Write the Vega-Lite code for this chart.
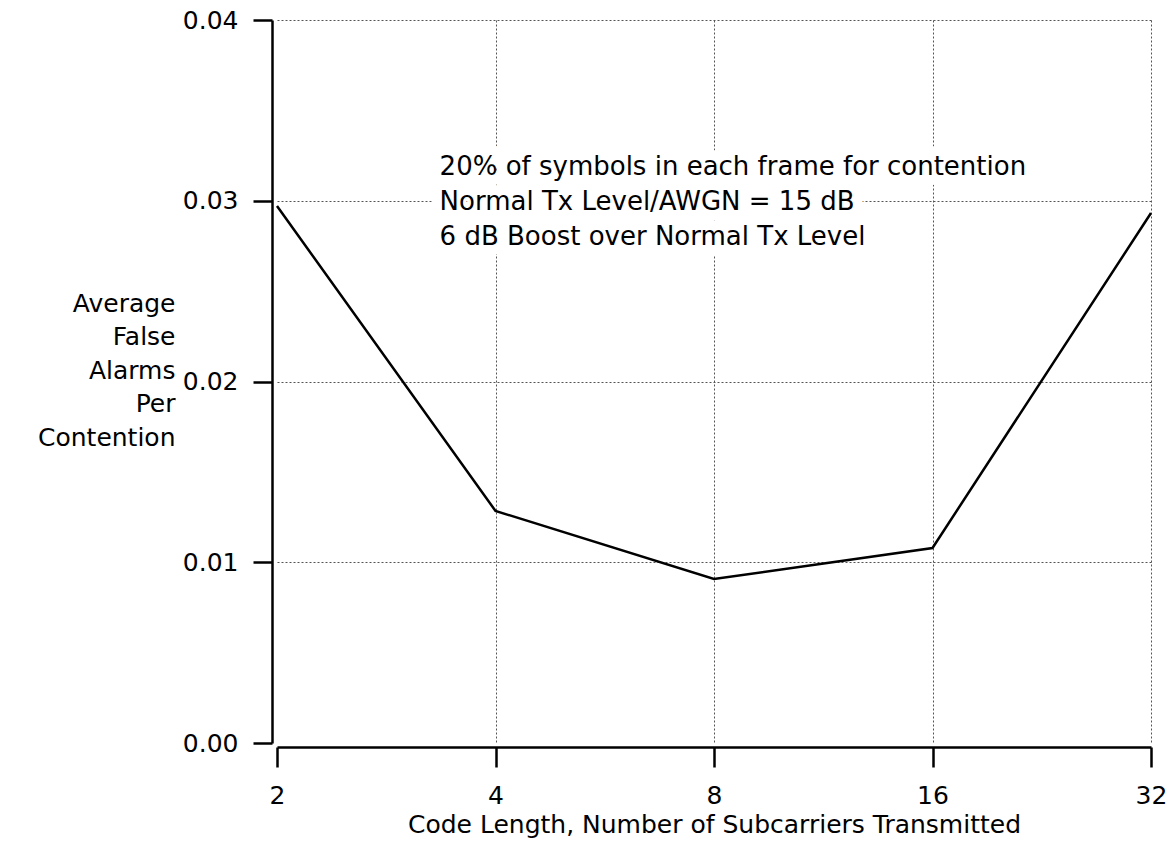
{
  "$schema": "https://vega.github.io/schema/vega-lite/v6.json",
  "autosize": "none",
  "width": 874,
  "height": 723,
  "padding": {"left": 277, "top": 20, "right": 24, "bottom": 107},
  "background": "white",
  "config": {
    "view": {"stroke": null},
    "font": "DejaVu Sans"
  },
  "datasets": {
    "series": [
      {"n": 2, "fa": 0.02971},
      {"n": 4, "fa": 0.01284},
      {"n": 8, "fa": 0.00907},
      {"n": 16, "fa": 0.01079},
      {"n": 32, "fa": 0.02932}
    ],
    "note": [
      {"n": 3.35, "fa": 0.0326, "label": ["20% of symbols in each frame for contention", "Normal Tx Level/AWGN = 15 dB", "6 dB Boost over Normal Tx Level"]}
    ]
  },
  "layer": [
    {
      "data": {"name": "series"},
      "mark": {"type": "line", "color": "black", "strokeWidth": 2.5},
      "encoding": {
        "x": {
          "field": "n", "type": "quantitative",
          "scale": {"type": "log", "base": 2, "domain": [2, 32], "nice": false},
          "axis": {
            "values": [2, 4, 8, 16, 32],
            "format": "d",
            "title": "Code Length, Number of Subcarriers Transmitted",
            "titleFontSize": 25,
            "titleFontWeight": "normal",
            "titleColor": "black",
            "titlePadding": 4,
            "labelFontSize": 25,
            "labelColor": "black",
            "labelPadding": 16,
            "labelFlush": false,
            "labelOverlap": false,
            "tickSize": 20,
            "tickWidth": 2.5,
            "tickColor": "black",
            "domainColor": "black",
            "domainWidth": 2.5,
            "offset": 4,
            "grid": true,
            "gridColor": "#555",
            "gridWidth": 1,
            "gridDash": [2, 2],
            "gridOpacity": {"condition": {"test": "datum.value === 2", "value": 0}, "value": 1}
          }
        },
        "y": {
          "field": "fa", "type": "quantitative",
          "scale": {"domain": [0, 0.04], "nice": false},
          "axis": {
            "values": [0, 0.01, 0.02, 0.03, 0.04],
            "format": ".2f",
            "title": ["Average", "False", "Alarms", "Per", "Contention"],
            "titleAngle": 0,
            "titleAlign": "right",
            "titleBaseline": "top",
            "titleX": -97,
            "titleY": 271,
            "titleLineHeight": 33.5,
            "titleFontSize": 25,
            "titleFontWeight": "normal",
            "titleColor": "black",
            "labelFontSize": 25,
            "labelColor": "black",
            "labelPadding": 15,
            "labelFlush": false,
            "tickSize": 19,
            "tickWidth": 2.5,
            "tickColor": "black",
            "domainColor": "black",
            "domainWidth": 2.5,
            "offset": 5,
            "grid": true,
            "gridColor": "#555",
            "gridWidth": 1,
            "gridDash": [2, 2],
            "gridOpacity": {"condition": {"test": "datum.value === 0", "value": 0}, "value": 1}
          }
        }
      }
    },
    {
      "data": {"name": "note"},
      "mark": {"type": "text", "align": "left", "baseline": "top", "fontSize": 26, "lineHeight": 35, "color": "white", "stroke": "white", "strokeWidth": 20, "strokeJoin": "round"},
      "encoding": {
        "x": {"field": "n", "type": "quantitative"},
        "y": {"field": "fa", "type": "quantitative"},
        "text": {"field": "label"}
      }
    },
    {
      "data": {"name": "note"},
      "mark": {"type": "text", "align": "left", "baseline": "top", "fontSize": 26, "lineHeight": 35, "color": "black"},
      "encoding": {
        "x": {"field": "n", "type": "quantitative"},
        "y": {"field": "fa", "type": "quantitative"},
        "text": {"field": "label"}
      }
    }
  ]
}
